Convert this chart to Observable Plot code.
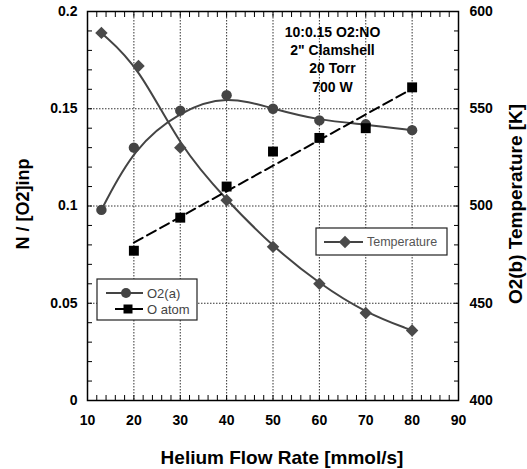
<!DOCTYPE html>
<html>
<head>
<meta charset="utf-8">
<script src="https://cdn.jsdelivr.net/npm/d3@7"></script>
<script src="https://cdn.jsdelivr.net/npm/@observablehq/plot@0.6"></script>
<style>
  body { margin: 0; background: #fff; }
  #chart { width: 527px; height: 469px; }
</style>
</head>
<body>
<div id="chart"></div>
<script>
// ---- data ----
const flowO2a = [13, 20, 30, 40, 50, 60, 70, 80];
const o2a     = [0.098, 0.130, 0.149, 0.157, 0.150, 0.144, 0.142, 0.139];
const flowO   = [20, 30, 40, 50, 60, 70, 80];
const oAtom   = [0.077, 0.094, 0.110, 0.128, 0.135, 0.140, 0.161];
const flowT   = [13, 21, 30, 40, 50, 60, 70, 80];
const tempK   = [589, 572, 530, 503, 479, 460, 445, 436];

const xTicks  = [10, 20, 30, 40, 50, 60, 70, 80, 90];
const yTicks  = [0, 0.05, 0.1, 0.15, 0.2];
const tTicks  = [400, 450, 500, 550, 600];
const xGrid   = [20, 30, 40, 50, 60, 70, 80];
const yGrid   = [0.05, 0.1, 0.15];
const xMinor  = d3.range(10, 90.01, 2);
const yMinor  = d3.range(0, 0.2001, 0.01);

const annotation = ["10:0.15 O2:NO", "2\" Clamshell", "20 Torr", "700 W"];
const xLabel = "Helium Flow Rate [mmol/s]";
const yLabel = "N / [O2]inp";
const y2Label = "O2(b) Temperature [K]";
const legend1 = ["O2(a)", "O atom"];
const legend2 = ["Temperature"];

// temperature axis (400–600 K) mapped onto left axis domain (0–0.2)
const tMin = 400, tMax = 600, yMax = 0.2;
const toY = t => (t - tMin) / (tMax - tMin) * yMax;
const fromY = v => tMin + v / yMax * (tMax - tMin);

const o2aData = flowO2a.map((x, i) => ({x, y: o2a[i]}));
const oData = flowO.map((x, i) => ({x, y: oAtom[i]}));
const tData = flowT.map((x, i) => ({x, y: toY(tempK[i])}));

const FONT = "'Liberation Sans', Arial, Helvetica, sans-serif";
const TK = 5; // inward tick length (px)

const p = Plot.plot({
  width: 527, height: 469,
  marginLeft: 87, marginRight: 69, marginTop: 11, marginBottom: 69,
  style: {fontFamily: FONT, fontSize: "14px", fontWeight: "bold", color: "#000", background: "#fff"},
  x: {domain: [10, 90]},
  y: {domain: [0, 0.2]},
  marks: [
    Plot.ruleX(xGrid, {stroke: "#333", strokeWidth: 1, strokeDasharray: "1.5,1.5"}),
    Plot.ruleY(yGrid, {stroke: "#333", strokeWidth: 1, strokeDasharray: "1.5,1.5"}),
    // inward minor ticks: bottom, top, left, right (Plot axes with inward tick direction)
    Plot.axisX(xMinor, {anchor: "bottom", tickSize: TK, tickFormat: null, label: null, dy: -TK, text: null}),
    Plot.axisX(xMinor, {anchor: "top", tickSize: TK, tickFormat: null, label: null, dy: TK, text: null}),
    Plot.axisY(yMinor, {anchor: "left", tickSize: TK, tickFormat: null, label: null, dx: TK, text: null}),
    Plot.axisY(yMinor, {anchor: "right", tickSize: TK, tickFormat: null, label: null, dx: -TK, text: null}),
    Plot.axisX(xTicks, {anchor: "bottom", tickSize: 0, tickPadding: 15, label: null}),
    Plot.axisY(yTicks, {anchor: "left", tickSize: 0, tickPadding: 10, label: null,
      tickFormat: d => String(+d.toFixed(3))}),
    Plot.axisY(tTicks.map(toY), {anchor: "right", tickSize: 0, tickPadding: 11, label: null,
      tickFormat: d => String(Math.round(fromY(d)))}),
    Plot.line(o2aData, {x: "x", y: "y", curve: "basis", stroke: "#444", strokeWidth: 2}),
    Plot.line(tData, {x: "x", y: "y", curve: "basis", stroke: "#444", strokeWidth: 2}),
    Plot.linearRegressionY(oData, {x: "x", y: "y", ci: 0, stroke: "#000", strokeWidth: 2, strokeDasharray: "10,5"}),
    Plot.dot(o2aData, {x: "x", y: "y", symbol: "circle", r: 5.2, fill: "#444", stroke: "none"}),
    Plot.dot(oData, {x: "x", y: "y", symbol: "square", r: 5.6, fill: "#000", stroke: "none"}),
    Plot.dot(tData, {x: "x", y: "y", symbol: "diamond2", r: 5.6, fill: "#4a4a4a", stroke: "none"}),
    Plot.text([annotation.join("\n")], {frameAnchor: "top", dx: 59.5, dy: 13, lineAnchor: "top",
      lineHeight: 1.29, fontSize: 14, fontWeight: "bold", fill: "#000"}),
    Plot.frame({stroke: "#000", strokeWidth: 1.5})
  ]
});

document.getElementById("chart").appendChild(p);
const svg = d3.select(p);

// axis titles
const title = (t) => svg.append("text").text(t).attr("text-anchor", "middle")
  .attr("font-family", FONT).attr("font-weight", "bold").attr("fill", "#000");
title(xLabel).attr("x", 282).attr("y", 464).attr("font-size", 19);
title(yLabel).attr("transform", "translate(29,204) rotate(-90)").attr("font-size", 18);
title(y2Label).attr("transform", "translate(522,204) rotate(-90)").attr("font-size", 19);

// legend 1
const L1 = svg.append("g");
L1.append("rect").attr("x", 97).attr("y", 279).attr("width", 100).attr("height", 41)
  .attr("fill", "#fff").attr("stroke", "#222").attr("stroke-width", 1.2);
L1.append("line").attr("x1", 106).attr("x2", 143).attr("y1", 293).attr("y2", 293)
  .attr("stroke", "#444").attr("stroke-width", 2);
L1.append("path").attr("d", d3.symbol(d3.symbolCircle, Math.PI * 25)())
  .attr("transform", "translate(126,293)").attr("fill", "#444");
L1.append("line").attr("x1", 115).attr("x2", 143).attr("y1", 309).attr("y2", 309)
  .attr("stroke", "#000").attr("stroke-width", 2);
L1.append("path").attr("d", d3.symbol(d3.symbolSquare, 81)())
  .attr("transform", "translate(128,309)").attr("fill", "#000");
L1.selectAll("text.l").data(legend1).join("text")
  .attr("x", 147).attr("y", (d, i) => 293 + i * 16).attr("dy", "0.35em")
  .attr("text-anchor", "start").attr("font-weight", "normal")
  .attr("font-family", FONT).attr("font-size", 13).attr("fill", "#444").text(d => d);

// legend 2
const L2 = svg.append("g");
L2.append("rect").attr("x", 316).attr("y", 228).attr("width", 131).attr("height", 27)
  .attr("fill", "#fff").attr("stroke", "#222").attr("stroke-width", 1.2);
L2.append("line").attr("x1", 324).attr("x2", 363).attr("y1", 242).attr("y2", 242)
  .attr("stroke", "#444").attr("stroke-width", 2);
L2.append("path").attr("d", d3.symbol(d3.symbolDiamond2, Math.PI * 5.6 * 5.6)())
  .attr("transform", "translate(345,242)").attr("fill", "#4a4a4a");
L2.selectAll("text.l").data(legend2).join("text")
  .attr("x", 367).attr("y", 242).attr("dy", "0.35em")
  .attr("text-anchor", "start").attr("font-weight", "normal")
  .attr("font-family", FONT).attr("font-size", 12.5).attr("fill", "#555").text(d => d);
</script>
</body>
</html>
